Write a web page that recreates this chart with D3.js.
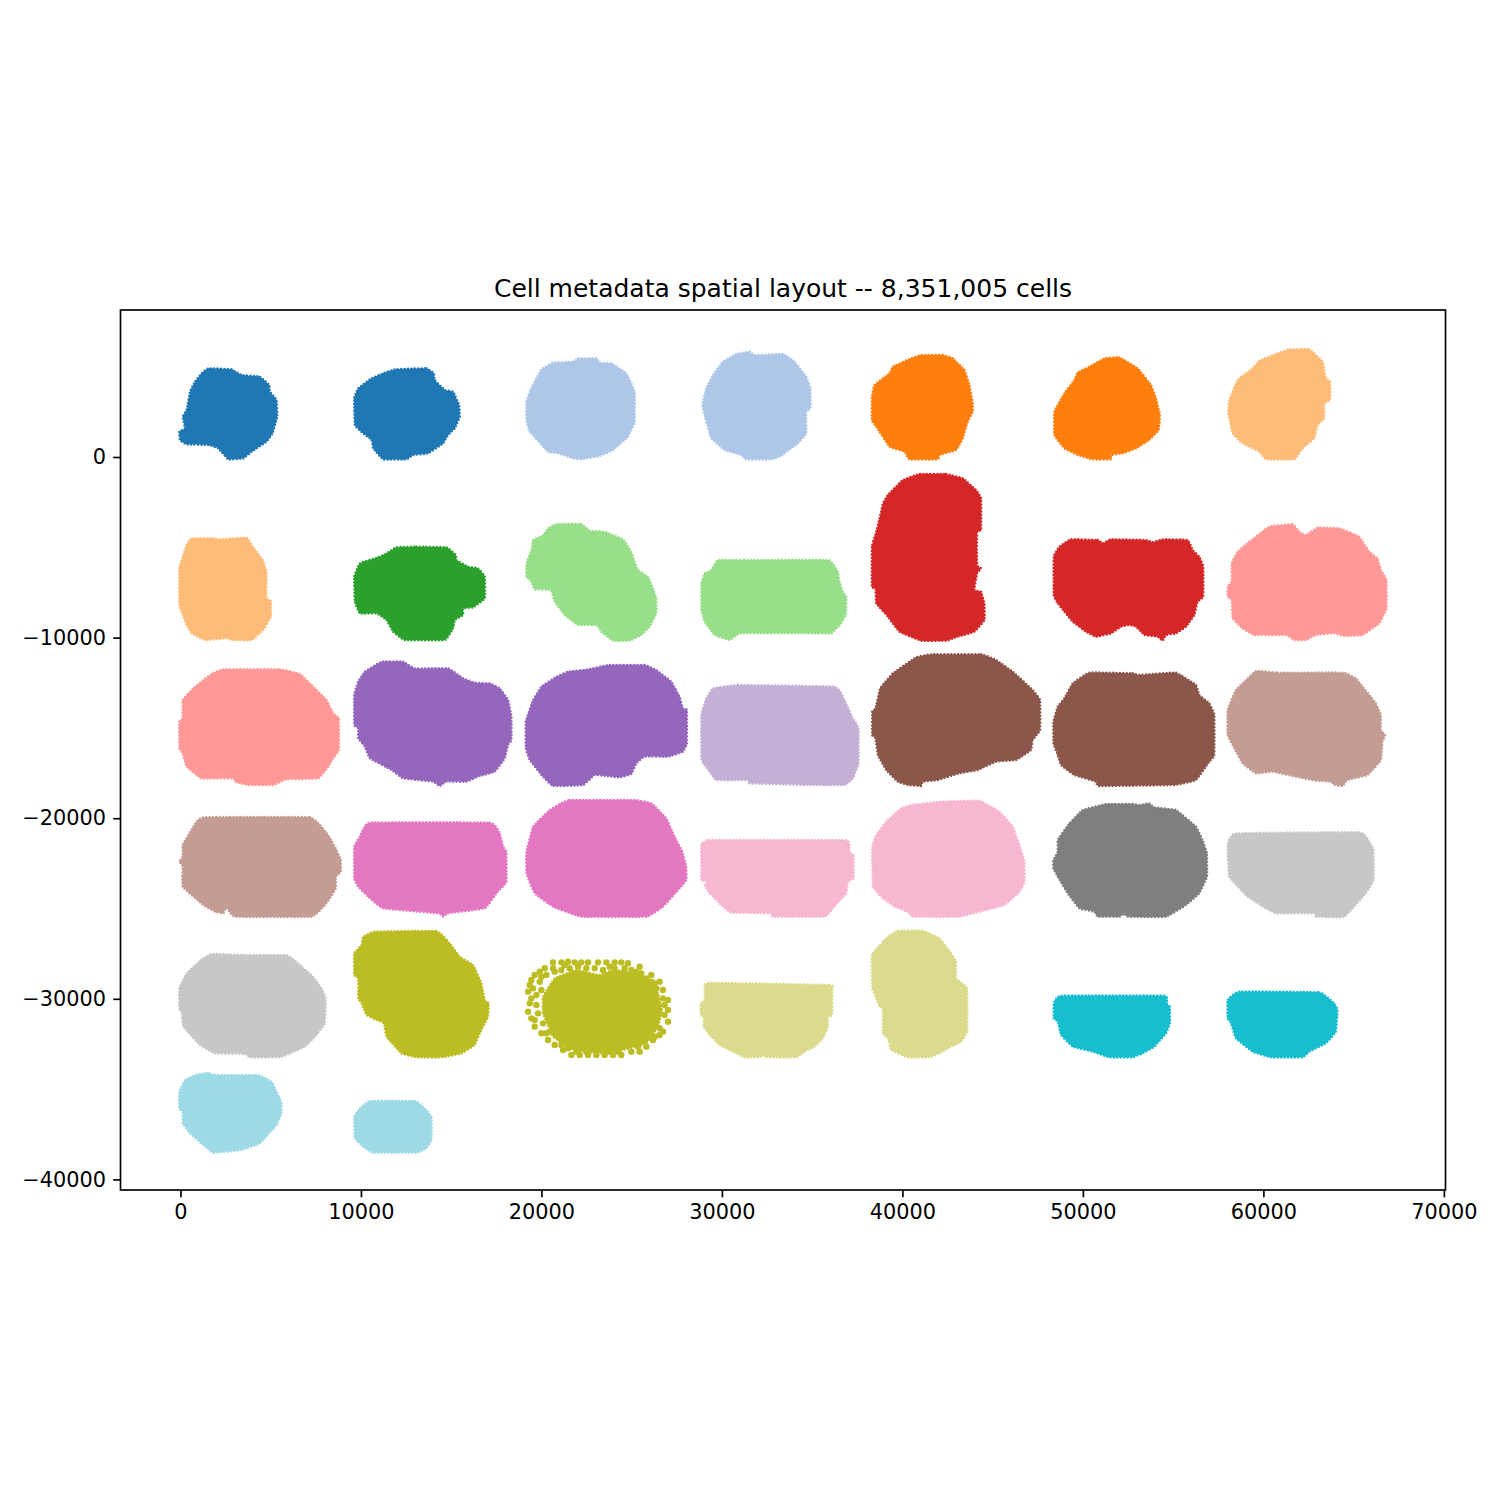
<!DOCTYPE html>
<html><head><meta charset="utf-8">
<style>html,body{margin:0;padding:0;background:#fff}svg{display:block}text{font-family:"DejaVu Sans",sans-serif;fill:#000}</style>
<script src="https://cdn.jsdelivr.net/npm/d3@7"></script></head><body><div id="c"></div>
<script>
const chartTitle = "Cell metadata spatial layout -- 8,351,005 cells";
const xTicks = [0,10000,20000,30000,40000,50000,60000,70000];
const yTicks = [0,-10000,-20000,-30000,-40000];
const xDomain = [-3322,70090];
const yDomain = [-40586,8139];
const tab20 = ["#1f77b4","#aec7e8","#ff7f0e","#ffbb78","#2ca02c","#98df8a","#d62728","#ff9896","#9467bd","#c5b0d5","#8c564b","#c49c94","#e377c2","#f7b6d2","#7f7f7f","#c7c7c7","#bcbd22","#dbdb8d","#17becf","#9edae5"];

const s01=[[1541,4909],[2833,4854],[3387,4540],[4402,4448],[4919,3986],[4956,3617],[5325,3156],[5362,2233],[5103,1310],[4771,849],[3941,295],[3479,-74],[2648,-130],[2095,479],[1541,664],[341,701],[-28,941],[-65,1402],[249,1587],[120,2233],[341,2602],[526,3617],[803,4171],[1172,4632]];
const s02=[[11877,4854],[13630,4909],[14037,4632],[14092,4263],[14646,3709],[15107,3617],[15439,2879],[15476,2233],[15199,1587],[14830,1218],[14553,756],[13723,203],[12892,110],[12523,-130],[11231,-130],[10677,479],[10585,941],[10123,1310],[9662,1772],[9625,3248],[9847,3802],[10585,4355],[11231,4632]];
const s03=[[20643,5223],[21751,5278],[22028,5463],[23043,5463],[23227,5223],[23873,5186],[24704,4632],[25165,3617],[25165,1956],[24796,1125],[23966,387],[23227,55],[22212,-130],[21751,-74],[20920,203],[20366,295],[19351,1402],[19167,2048],[19167,3063],[19388,3709],[19721,4355],[19997,4854]];
const s04=[[30795,5703],[31533,5832],[31810,5647],[33379,5703],[34025,5278],[34670,4448],[34911,3802],[34911,2694],[34670,2510],[34670,1310],[34210,756],[33286,55],[32733,-130],[31348,-130],[31071,110],[30149,387],[29410,1033],[29133,1956],[28912,2879],[29133,3802],[29503,4540],[30057,5278]];
const s05=[[41038,5647],[42238,5647],[42792,5463],[43438,4817],[43715,3986],[43899,2971],[43899,2510],[43623,1956],[43345,1033],[42977,387],[42053,110],[41961,-130],[40392,-130],[40114,295],[39285,572],[38547,1679],[38307,2048],[38307,3340],[38455,3986],[39285,4632],[39470,5001],[40484,5463]];
const s06=[[51189,5463],[52019,5518],[53034,4909],[53772,3986],[54050,3248],[54271,2325],[54197,1494],[53680,941],[52942,479],[52204,202],[51558,110],[51558,-130],[50543,-130],[49712,110],[48974,479],[48420,1218],[48420,2510],[48974,3525],[49528,4263],[49712,4688],[50358,5001]];
const s07=[[61432,5961],[62540,5961],[63278,5278],[63462,4355],[63703,4171],[63703,3156],[63370,2971],[63370,2140],[63001,1771],[62817,1033],[62171,479],[61709,-130],[60141,-130],[59771,295],[58848,756],[58295,1310],[58055,2418],[58110,3156],[58572,4263],[59402,4909],[59771,5333],[60694,5703]];
const s08=[[618,-4504],[1818,-4504],[2187,-4559],[3664,-4467],[4033,-5002],[4550,-5704],[4771,-6350],[4771,-7826],[5011,-7956],[5011,-8841],[4587,-9580],[3941,-10133],[2833,-10133],[2556,-10041],[1356,-10133],[618,-9764],[341,-9303],[64,-8565],[-65,-8195],[-65,-6165],[120,-5519],[341,-4873]];
const s09=[[11969,-5002],[13077,-4965],[14738,-5002],[15255,-5427],[15292,-5704],[15938,-6073],[16491,-6165],[16860,-6626],[16860,-7826],[16214,-8324],[15661,-8380],[15661,-8749],[15199,-9026],[15107,-9488],[14646,-10133],[12431,-10133],[11785,-9672],[11416,-9026],[10862,-8657],[9939,-8657],[9662,-8011],[9625,-6626],[9939,-5888],[10954,-5556],[11416,-5334]];
const s10=[[20828,-3710],[22212,-3710],[22674,-4079],[23504,-4135],[24519,-4559],[24981,-5242],[25165,-5796],[25350,-6257],[25904,-6626],[26181,-7272],[26365,-7826],[26365,-8657],[25996,-9395],[25534,-9856],[24889,-10170],[23966,-10170],[23320,-9672],[23043,-9303],[22028,-9303],[21289,-8749],[20736,-8011],[20514,-7365],[19628,-7328],[19444,-6903],[19167,-6626],[19167,-5888],[19444,-5150],[19536,-4596],[20090,-4319],[20367,-3950]];
const s11=[[29780,-5704],[31256,-5704],[35870,-5704],[36424,-6349],[36517,-6903],[36701,-7457],[36885,-7734],[36885,-8657],[36609,-9211],[36055,-9764],[34670,-9764],[31071,-9764],[30426,-10133],[29595,-9856],[29041,-9118],[28857,-8472],[28857,-6995],[29041,-6442],[29410,-6257]];
const s12=[[40946,-942],[42423,-942],[43345,-1182],[44083,-1828],[44360,-2289],[44360,-4042],[44139,-4135],[44139,-5980],[44360,-6165],[44139,-6442],[43992,-7365],[44360,-7457],[44545,-8103],[44545,-9026],[43992,-9672],[43069,-9949],[42423,-10170],[41038,-10170],[39838,-9672],[39193,-8841],[38547,-8103],[38510,-7272],[38307,-7180],[38307,-4965],[38547,-4135],[38733,-3397],[38918,-2566],[39193,-2105],[40022,-1274]];
const s13=[[49343,-4559],[50820,-4596],[51096,-4781],[51558,-4559],[53496,-4596],[53865,-4725],[54419,-4559],[55803,-4596],[56080,-5150],[56449,-5519],[56670,-6073],[56670,-7734],[56357,-8011],[56172,-8749],[55711,-9395],[55157,-9764],[54603,-9856],[54419,-10170],[54142,-9949],[53404,-9856],[52942,-9395],[52573,-9303],[52112,-9395],[51558,-9764],[50728,-9949],[50174,-9672],[49435,-9118],[48974,-8565],[48605,-8103],[48383,-7642],[48383,-5519],[48697,-4965]];
const s14=[[60325,-3858],[61617,-3729],[61986,-4135],[62355,-4319],[63001,-3913],[64201,-3950],[65308,-4411],[65863,-5242],[66324,-5611],[66509,-6257],[66822,-6811],[66822,-8380],[66416,-9211],[65493,-9856],[64478,-9912],[63924,-9764],[62909,-9856],[62355,-10133],[61709,-10133],[61248,-9856],[59494,-9856],[58848,-9488],[58295,-8934],[58240,-7918],[58018,-7734],[58018,-7180],[58240,-6903],[58240,-5888],[58572,-5242],[59218,-4688]];
const s15=[[2372,-11757],[5510,-11757],[6617,-12015],[7263,-12624],[8094,-13455],[8463,-14193],[8777,-14470],[8777,-16223],[8463,-16684],[8186,-17146],[7632,-17792],[5879,-17847],[5141,-18161],[3756,-18161],[3018,-17976],[2926,-17792],[1172,-17792],[342,-17146],[120,-16408],[-64,-16131],[-64,-14654],[120,-14470],[120,-13455],[711,-12809],[1265,-12347],[1726,-12015]];
const s16=[[11139,-11332],[12339,-11332],[12985,-11701],[14830,-11701],[15661,-12255],[16307,-12495],[17138,-12532],[17691,-12809],[18153,-13455],[18338,-14378],[18338,-15669],[18153,-15946],[17968,-16685],[17414,-17423],[16584,-17663],[15846,-17976],[14738,-17976],[14369,-18216],[14000,-17976],[12339,-17792],[11693,-17330],[10493,-16685],[10216,-16039],[9847,-15577],[9847,-15023],[9626,-14839],[9626,-13178],[9847,-12439],[10216,-11886]];
const s17=[[23689,-11517],[25719,-11517],[26365,-11793],[27196,-12439],[27657,-13270],[27842,-13916],[28063,-14008],[28063,-15854],[27842,-16316],[27011,-16592],[25719,-16592],[25258,-16961],[24981,-17552],[24335,-17737],[23597,-17663],[22951,-17607],[22305,-18161],[20644,-18216],[19998,-17607],[19352,-16777],[19130,-16131],[19130,-14654],[19536,-13455],[19998,-12716],[20828,-12163],[21474,-11886],[22582,-11757]];
const s18=[[29503,-12809],[30887,-12624],[36240,-12716],[36794,-13455],[37255,-14470],[37568,-15023],[37568,-16962],[37255,-17792],[36794,-18161],[34670,-18161],[31533,-18069],[31441,-17884],[29688,-17884],[29041,-17054],[28857,-16685],[28857,-14285],[29134,-13362]];
const s19=[[41592,-10926],[44360,-10926],[45191,-11240],[46113,-11886],[47221,-12901],[47627,-13455],[47627,-15116],[47221,-15670],[47129,-16223],[46299,-16777],[45191,-16869],[44176,-17331],[43161,-17515],[41961,-17884],[41131,-17977],[41038,-18217],[40300,-18161],[39746,-17977],[39100,-17331],[38639,-16500],[38510,-15577],[38325,-15393],[38325,-14101],[38510,-13916],[38768,-12809],[39469,-11979],[40762,-11092]];
const s20=[[50358,-11941],[52758,-11978],[53127,-12071],[55157,-11941],[56265,-12624],[56450,-13178],[57003,-13639],[57280,-14285],[57280,-16500],[57003,-16869],[56265,-17884],[55065,-18161],[50912,-18217],[50727,-17977],[49528,-17608],[48790,-17054],[48568,-16408],[48365,-15854],[48365,-14654],[48605,-13824],[48974,-13363],[49436,-12532]];
const s21=[[59587,-11849],[60787,-11941],[64386,-11941],[65124,-12255],[66232,-13639],[66509,-14285],[66509,-15116],[66748,-15393],[66601,-15762],[66509,-16777],[65770,-17608],[64663,-17885],[64386,-18217],[63924,-18161],[63740,-17977],[62912,-17922],[61802,-17700],[60510,-17423],[59587,-17515],[58849,-16962],[58387,-16131],[58018,-15393],[58018,-14008],[58480,-12901]];
const s22=[[1265,-19951],[7171,-19951],[8186,-20930],[8648,-21760],[8888,-22314],[8888,-22960],[8611,-23237],[8611,-23883],[8094,-24713],[7263,-25452],[3018,-25452],[2557,-24935],[2372,-25267],[1911,-25175],[1265,-24805],[120,-23791],[120,-22683],[-64,-22406],[120,-22129],[120,-21483],[711,-20468]];
const s23=[[10493,-20247],[17138,-20247],[17691,-20837],[17876,-21576],[18061,-21853],[18061,-23514],[17507,-24160],[16861,-24990],[14830,-25267],[14553,-25452],[14277,-25267],[11231,-24990],[10401,-24344],[9847,-23790],[9626,-23329],[9626,-21576],[9939,-21022]];
const s24=[[21013,-19213],[21567,-18992],[25166,-18992],[26089,-19176],[26919,-20007],[27381,-21022],[27805,-21853],[28027,-22683],[28027,-23421],[27657,-23883],[26734,-24898],[25812,-25452],[22213,-25452],[20644,-24898],[19629,-24160],[19167,-23052],[19167,-21853],[19536,-20468],[20459,-19545]];
const s25=[[29043,-21391],[29319,-21207],[36795,-21207],[37071,-21576],[37071,-21945],[37293,-22037],[37293,-23329],[36979,-23514],[36887,-24160],[36148,-24990],[35687,-25452],[32826,-25452],[32734,-25267],[30519,-25230],[29966,-24806],[29319,-24160],[29043,-23698],[29227,-23458],[28858,-23421],[28858,-21391]];
const s26=[[42055,-19084],[44270,-19029],[45377,-19638],[46116,-20468],[46577,-21760],[46761,-22406],[46761,-23514],[46484,-24067],[45654,-24806],[43162,-25452],[40578,-25452],[40393,-25230],[39563,-24898],[38917,-24437],[38363,-23790],[38326,-21576],[38548,-20930],[39101,-20192],[39932,-19453],[40486,-19269]];
const s27=[[51281,-19214],[52758,-19214],[53127,-19269],[53680,-19177],[53957,-19398],[55156,-19546],[56265,-20469],[56634,-21207],[56874,-21945],[56874,-23237],[56449,-24160],[55711,-24806],[54604,-25452],[52481,-25452],[52296,-25267],[52020,-25452],[50820,-25452],[50636,-25175],[49805,-24991],[49159,-24160],[48605,-23237],[48365,-22776],[48365,-22314],[48605,-21853],[48605,-21207],[49251,-20284],[49989,-19546]];
const s28=[[58480,-20838],[65310,-20782],[65864,-21299],[66103,-21761],[66103,-23421],[65677,-24160],[64477,-25452],[62910,-25452],[62817,-25267],[60694,-25267],[60141,-24991],[59125,-24345],[58110,-23237],[58018,-21484]];
const s29=[[1726,-27519],[3479,-27574],[5879,-27574],[6525,-28035],[7355,-28774],[7817,-29420],[8038,-29973],[8001,-31358],[7540,-32004],[6893,-32650],[6063,-33019],[5510,-33240],[3849,-33240],[3572,-33056],[1911,-33019],[1080,-32557],[157,-31542],[65,-30712],[-64,-30619],[-64,-29420],[342,-28589],[1172,-27814]];
const s30=[[10770,-26282],[14184,-26245],[14923,-26928],[15476,-27666],[16215,-28128],[16676,-29143],[16861,-30066],[17083,-30250],[17045,-30989],[16584,-31912],[16307,-32557],[15569,-33019],[14554,-33240],[13077,-33240],[12246,-33019],[11416,-32096],[11269,-31358],[10862,-31173],[10309,-30896],[10032,-30250],[9847,-29973],[9847,-28866],[9626,-28681],[9626,-27482],[10032,-27020],[10124,-26559]];
const s31=[[20735,-28866],[21935,-28405],[23227,-28681],[23965,-28405],[25442,-28589],[26365,-29420],[26679,-30619],[26457,-31542],[25811,-32465],[24519,-32834],[23227,-33019],[21751,-32834],[20643,-32096],[20089,-30804],[20089,-29881]];
const s31Ring=[[20643,-27980],[21105,-27980],[21474,-27943],[21843,-27980],[22212,-27980],[22581,-27980],[23135,-27980],[23596,-27980],[24058,-27980],[24427,-27980],[24796,-28035],[25442,-28220],[26088,-28681],[26549,-29050],[26734,-29512],[27011,-30066],[27011,-30619],[27011,-31265],[26734,-31819],[26272,-32096],[25811,-32650],[25442,-32927],[24980,-32927],[24427,-33111],[23965,-33111],[23504,-33111],[23043,-33111],[22581,-33111],[22120,-33111],[21658,-33111],[21197,-32834],[20735,-32557],[20366,-32280],[19997,-31911],[19628,-31542],[19443,-31081],[19259,-30712],[19351,-30250],[19443,-29974],[19259,-29604],[19351,-29235],[19443,-28958],[19628,-28681],[19905,-28497],[20182,-28312],[20274,-28681],[20735,-28497],[19905,-29050],[19997,-29512],[19720,-29789],[19720,-30342],[19813,-30804],[20089,-31358],[20459,-31819],[21289,-28128],[22028,-28220],[22950,-28312],[24058,-28312],[24611,-28312],[25257,-28497],[25811,-28866],[26272,-29143],[26734,-29974],[26549,-32004],[21105,-32557],[20643,-28312],[21105,-28405],[21566,-28312],[22489,-28312],[23412,-28405],[23781,-28220],[24981,-28405],[25534,-28589],[26088,-29050],[26365,-29420],[19536,-29420],[19997,-28774],[19628,-31173],[20274,-31911],[21474,-32742],[21935,-32927],[22489,-32927],[23781,-32927],[24242,-32927],[25350,-32650],[26180,-32280],[26549,-31634],[26826,-30342],[26826,-30896]];
const s32=[[29318,-29106],[35962,-29235],[36109,-29512],[36109,-30896],[35876,-30988],[35870,-31542],[35594,-32188],[35132,-32650],[34578,-32927],[34116,-33240],[32456,-33240],[32271,-33111],[32086,-33240],[31256,-33240],[30610,-32927],[29872,-32557],[29318,-32004],[28986,-31542],[28986,-30988],[28820,-30896],[28820,-30250],[29041,-30066],[29041,-29327]];
const s33=[[39746,-26227],[41131,-26227],[42053,-26651],[42699,-27482],[42976,-27943],[42976,-28866],[43586,-29420],[43586,-31819],[43253,-32373],[42515,-32742],[42053,-33019],[41500,-33240],[40300,-33240],[39377,-32834],[39192,-32188],[38915,-31911],[38915,-30527],[38730,-30435],[38546,-29974],[38325,-29420],[38307,-27574],[38915,-26836],[39192,-26559]];
const s34=[[48790,-29825],[54511,-29825],[54640,-30250],[54825,-30435],[54825,-31358],[54604,-31911],[53957,-32649],[53312,-33019],[52758,-33240],[51466,-33240],[50543,-32926],[49436,-32649],[48790,-32003],[48605,-31265],[48384,-31081],[48384,-30250]];
const s35=[[58664,-29604],[63094,-29641],[63924,-30250],[64109,-30619],[64016,-31819],[63463,-32465],[62540,-32926],[62171,-33240],[60418,-33240],[59402,-32926],[58480,-32188],[58203,-31358],[58018,-31081],[58018,-30066]];
const s36=[[1542,-34089],[1911,-34219],[4310,-34219],[5048,-34587],[5417,-35326],[5602,-35787],[5602,-36341],[5325,-36987],[4402,-37999],[3387,-38371],[1819,-38519],[1265,-38094],[526,-37449],[120,-36894],[120,-36341],[-64,-36065],[-64,-35141],[250,-34495],[803,-34219]];
const s37=[[10493,-35658],[12985,-35658],[13447,-35972],[13908,-36525],[13908,-37818],[13631,-38279],[13077,-38519],[10678,-38519],[10124,-38187],[9663,-37725],[9626,-36525],[9939,-36065]];

const sections=[s01,s02,s03,s04,s05,s06,s07,s08,s09,s10,s11,s12,s13,s14,s15,s16,s17,s18,s19,s20,s21,s22,s23,s24,s25,s26,s27,s28,s29,s30,s31,s32,s33,s34,s35,s36,s37];
const sectionGroup=[0,0,1,1,2,2,3,3,4,5,5,6,6,7,7,8,8,9,10,10,11,11,12,12,13,13,14,15,15,16,16,17,17,18,18,19,19];

const W=1500,H=1500;
const m={l:120.5,r:1445.5,t:310,b:1190};
const x=d3.scaleLinear().domain(xDomain).range([m.l,m.r]);
const y=d3.scaleLinear().domain(yDomain).range([m.b,m.t]);
const color=d3.scaleOrdinal().domain(d3.range(20)).range(tab20);
const svg=d3.select("#c").append("svg").attr("width",W).attr("height",H);
svg.append("rect").attr("width",W).attr("height",H).attr("fill","#fff");

const line=d3.line().x(d=>x(d[0])).y(d=>y(d[1])).curve(d3.curveCardinalClosed.tension(0.72));
const g=svg.append("g");
g.selectAll("path.section").data(sections).join("path").attr("class","section")
  .attr("d",d=>line(d))
  .attr("fill",(d,i)=>color(sectionGroup[i]))
  .attr("stroke",(d,i)=>color(sectionGroup[i]))
  .attr("stroke-width",2.4)
  .attr("stroke-linecap","round")
  .attr("stroke-dasharray","0 3.4");
g.selectAll("circle.ring").data(s31Ring).join("circle").attr("class","ring")
  .attr("cx",d=>x(d[0])).attr("cy",d=>y(d[1])).attr("r",3.2)
  .attr("fill",color(16));

const fs=20.83, lw=1.67;
const ax=svg.append("g").attr("transform",`translate(0,${m.b})`)
  .call(d3.axisBottom(x).tickValues(xTicks).tickFormat(d=>String(d)).tickSize(7.3).tickPadding(7.3));
const ay=svg.append("g").attr("transform",`translate(${m.l},0)`)
  .call(d3.axisLeft(y).tickValues(yTicks).tickFormat(d=>d<0?"\u2212"+Math.abs(d):String(d)).tickSize(7.3).tickPadding(7.3));
[ax,ay].forEach(a=>{
  a.select(".domain").remove();
  a.selectAll("line").attr("stroke","#000").attr("stroke-width",lw);
  a.selectAll("text").attr("font-size",fs).attr("font-family",'"DejaVu Sans"').attr("fill","#000");
});
svg.append("rect").attr("x",m.l).attr("y",m.t).attr("width",m.r-m.l).attr("height",m.b-m.t)
  .attr("fill","none").attr("stroke","#000").attr("stroke-width",lw);
svg.append("text").attr("x",(m.l+m.r)/2).attr("y",297).attr("text-anchor","middle")
  .attr("font-size",25).text(chartTitle);
</script></body></html>
